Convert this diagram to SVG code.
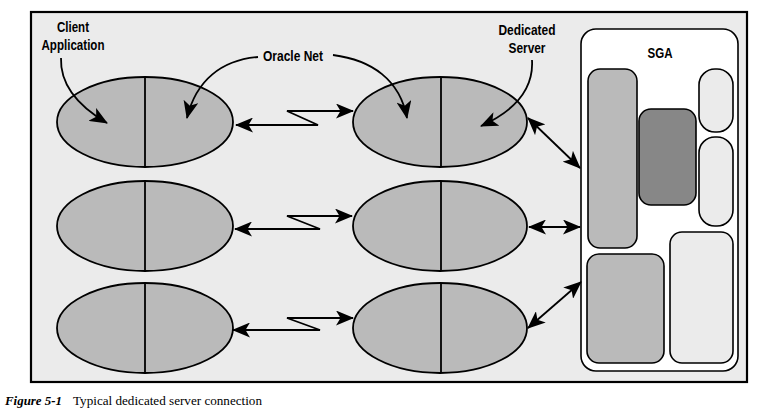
<svg xmlns="http://www.w3.org/2000/svg" width="771" height="416" viewBox="0 0 771 416">
<defs>
<style>
.ell{fill:#bababa;stroke:#000;stroke-width:1.8}
.div{stroke:#000;stroke-width:1.8}
.lbl{font-family:"Liberation Sans",Arial,sans-serif;font-weight:bold;font-size:15.5px;fill:#000;text-anchor:middle}
.con{fill:none;stroke:#000;stroke-width:1.8}
.box{stroke:#000;stroke-width:1.6}
</style>
<marker id="ah" markerUnits="userSpaceOnUse" markerWidth="18" markerHeight="15" viewBox="0 0 18 15" refX="17" refY="7.5" orient="auto-start-reverse">
<path d="M0,0 L18,7.5 L0,15 L4.5,7.5 Z" fill="#000"/>
</marker>
</defs>
<rect x="0" y="0" width="771" height="416" fill="#fff"/>
<rect id="frame" x="31" y="12" width="716" height="370" fill="#ebebeb" stroke="#000" stroke-width="2.2"/>

<g id="client1"><ellipse class="ell" cx="145" cy="122" rx="88" ry="45"/><line class="div" x1="145" y1="77" x2="145" y2="167"/></g>
<g id="client2"><ellipse class="ell" cx="145" cy="226" rx="88" ry="45"/><line class="div" x1="145" y1="181" x2="145" y2="271"/></g>
<g id="client3"><ellipse class="ell" cx="145" cy="328" rx="88" ry="45"/><line class="div" x1="145" y1="283" x2="145" y2="373"/></g>

<g id="server1"><ellipse class="ell" cx="440" cy="122" rx="87" ry="45"/><line class="div" x1="441" y1="77" x2="441" y2="167"/></g>
<g id="server2"><ellipse class="ell" cx="440" cy="226" rx="87" ry="45"/><line class="div" x1="441" y1="181" x2="441" y2="271"/></g>
<g id="server3"><ellipse class="ell" cx="440" cy="328" rx="87" ry="45"/><line class="div" x1="441" y1="283" x2="441" y2="373"/></g>

<g id="sga">
<rect class="box" x="581" y="29" width="157" height="342" rx="15" fill="#fff"/>
<text class="lbl" x="660" y="58" textLength="25" lengthAdjust="spacingAndGlyphs">SGA</text>
<rect class="box" x="588" y="69" width="49" height="179" rx="12" fill="#bababa"/>
<rect class="box" x="639" y="109" width="57" height="96" rx="12" fill="#878787"/>
<rect class="box" x="699" y="69" width="34" height="63" rx="16" fill="#ebebeb"/>
<rect class="box" x="699" y="137" width="34" height="89" rx="16" fill="#ebebeb"/>
<rect class="box" x="587" y="254" width="77" height="109" rx="12" fill="#bababa"/>
<rect class="box" x="670" y="232" width="63" height="131" rx="12" fill="#ebebeb"/>
</g>

<g id="labels">
<text class="lbl" x="73" y="32" textLength="32" lengthAdjust="spacingAndGlyphs">Client</text>
<text class="lbl" x="73" y="50" textLength="63" lengthAdjust="spacingAndGlyphs">Application</text>
<text class="lbl" x="293" y="61" textLength="60" lengthAdjust="spacingAndGlyphs">Oracle Net</text>
<text class="lbl" x="527" y="35" textLength="57" lengthAdjust="spacingAndGlyphs">Dedicated</text>
<text class="lbl" x="527" y="53" textLength="37" lengthAdjust="spacingAndGlyphs">Server</text>
</g>

<g id="connectors">
<path class="con" d="M61,58 C60,85 78,106 107,123" marker-end="url(#ah)"/>
<path class="con" d="M258,57 C222,60 196,80 187,118" marker-end="url(#ah)"/>
<path class="con" d="M333,55 C372,60 400,80 407,118" marker-end="url(#ah)"/>
<path class="con" d="M532,60 C534,92 512,112 481,126" marker-end="url(#ah)"/>

<path class="con" d="M236,125 H318 L287,111 H353" marker-start="url(#ah)" marker-end="url(#ah)"/>
<path class="con" d="M235,229 H320 L287,216 H352" marker-start="url(#ah)" marker-end="url(#ah)"/>
<path class="con" d="M233,330 H320 L287,318 H353" marker-start="url(#ah)" marker-end="url(#ah)"/>

<line class="con" x1="528" y1="118" x2="580" y2="168" marker-start="url(#ah)" marker-end="url(#ah)"/>
<line class="con" x1="529" y1="227" x2="580" y2="227" marker-start="url(#ah)" marker-end="url(#ah)"/>
<line class="con" x1="528" y1="328" x2="581" y2="282" marker-start="url(#ah)" marker-end="url(#ah)"/>
</g>

<g id="caption" font-family="'Liberation Serif','Times New Roman',serif" font-size="13">
<text x="5" y="405" font-weight="bold" font-style="italic" textLength="57" lengthAdjust="spacingAndGlyphs">Figure 5-1</text>
<text x="73" y="405" textLength="189" lengthAdjust="spacingAndGlyphs">Typical dedicated server connection</text>
</g>
</svg>
